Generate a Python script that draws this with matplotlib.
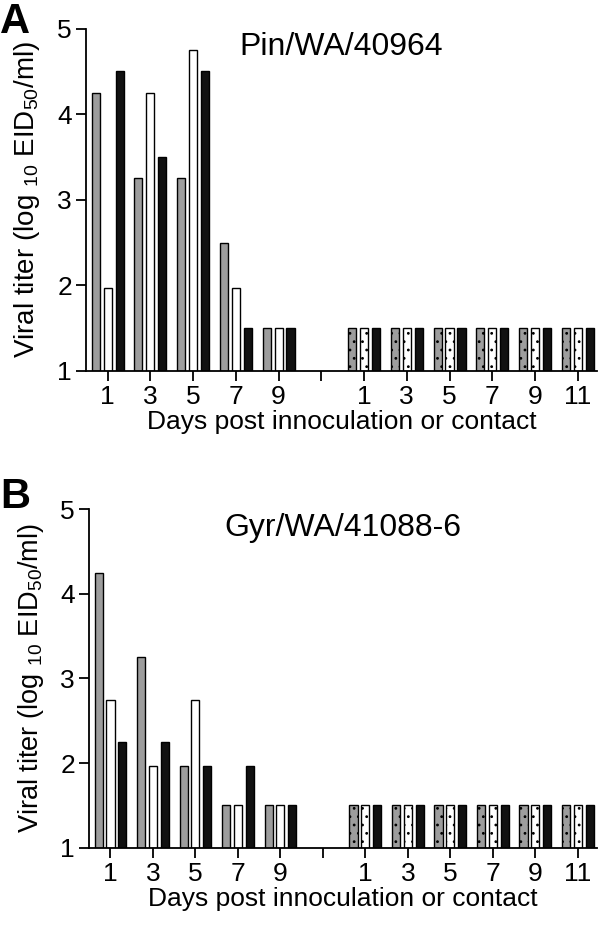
import numpy as np
import matplotlib.pyplot as plt

plt.rcParams['font.family'] = ['Liberation Sans', 'DejaVu Sans']
plt.rcParams['mathtext.fontset'] = 'custom'
plt.rcParams['mathtext.rm'] = 'Liberation Sans'
plt.rcParams['mathtext.it'] = 'Liberation Sans:italic'
plt.rcParams['mathtext.bf'] = 'Liberation Sans:bold'
plt.rcParams['hatch.linewidth'] = 0.8

# x tick labels: inoculated days, blank gap, contact days
inoc_days = ['1', '3', '5', '7', '9']
contact_days = ['1', '3', '5', '7', '9', '11']

# panel A: Pin/WA/40964
pin_grey = [4.25, 3.25, 3.25, 2.5, 1.5]
pin_white = [1.97, 4.25, 4.75, 1.97, 1.5]
pin_black = [4.5, 3.5, 4.5, 1.5, 1.5]
pin_c_grey = [1.5, 1.5, 1.5, 1.5, 1.5, 1.5]
pin_c_white = [1.5, 1.5, 1.5, 1.5, 1.5, 1.5]
pin_c_black = [1.5, 1.5, 1.5, 1.5, 1.5, 1.5]

# panel B: Gyr/WA/41088-6
gyr_grey = [4.25, 3.25, 1.97, 1.5, 1.5]
gyr_white = [2.75, 1.97, 2.75, 1.5, 1.5]
gyr_black = [2.25, 2.25, 1.97, 1.97, 1.5]
gyr_c_grey = [1.5, 1.5, 1.5, 1.5, 1.5, 1.5]
gyr_c_white = [1.5, 1.5, 1.5, 1.5, 1.5, 1.5]
gyr_c_black = [1.5, 1.5, 1.5, 1.5, 1.5, 1.5]

GREY = '#9d9d9d'
BLACK = '#111111'
OFF = 0.28
W = 0.19
BASE = 1


def draw_panel(ax, grey, white, black, c_grey, c_white, c_black, title, ysize, ypad):
    xi = np.arange(len(inoc_days))
    xc = np.arange(len(contact_days)) + len(inoc_days) + 1
    kw = dict(width=W, bottom=BASE, edgecolor='black', linewidth=1.0)
    ax.bar(xi - OFF, np.array(grey) - BASE, color=GREY, **kw)
    ax.bar(xi, np.array(white) - BASE, color='white', **kw)
    ax.bar(xi + OFF, np.array(black) - BASE, color=BLACK, **kw)
    ax.bar(xc - OFF, np.array(c_grey) - BASE, color=GREY, hatch='..', **kw)
    ax.bar(xc, np.array(c_white) - BASE, color='white', hatch='..', **kw)
    ax.bar(xc + OFF, np.array(c_black) - BASE, color=BLACK, **kw)

    ax.set_xlim(-0.51, 11.45)
    ax.set_ylim(1, 5)
    ax.set_yticks([1, 2, 3, 4, 5])
    ax.set_xticks(np.arange(len(inoc_days) + 1 + len(contact_days)))
    ax.set_xticklabels(inoc_days + [''] + contact_days)
    for s in ['top', 'right']:
        ax.spines[s].set_visible(False)
    for s in ['left', 'bottom']:
        ax.spines[s].set_linewidth(1.3)
    ax.tick_params(axis='both', length=7, width=1.3, labelsize=19, pad=3)
    ax.set_xlabel('Days post innoculation or contact', fontsize=19, labelpad=1)
    ax.set_ylabel('Viral titer (log $_{10}$ EID$_{50}$/ml)', fontsize=ysize, labelpad=ypad)
    ax.text(0.5, 0.945, title, transform=ax.transAxes, ha='center', va='center',
            fontsize=23)
    return ax


fig = plt.figure(figsize=(6, 9.25), dpi=100)
ax1 = fig.add_axes([0.143, 0.599, 0.852, 0.370])
ax2 = fig.add_axes([0.148, 0.0835, 0.847, 0.366])

draw_panel(ax1, pin_grey, pin_white, pin_black, pin_c_grey, pin_c_white, pin_c_black,
           'Pin/WA/40964', 20, 11)
draw_panel(ax2, gyr_grey, gyr_white, gyr_black, gyr_c_grey, gyr_c_white, gyr_c_black,
           'Gyr/WA/41088-6', 19.5, 10)

fig.text(0.0, 0.9975, 'A', fontsize=30, fontweight='bold', ha='left', va='top')
fig.text(0.0, 0.484, 'B', fontsize=30, fontweight='bold', ha='left', va='top')

fig.savefig('out.png', dpi=100)
